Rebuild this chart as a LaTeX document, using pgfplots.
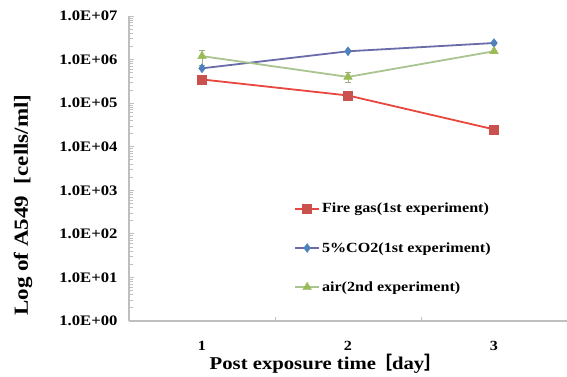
\documentclass[border=0pt]{standalone}
\usepackage{pgfplots}
\pgfplotsset{compat=1.18}
\usepackage{fontspec}
\setmainfont[FakeStretch=1.15]{Liberation Serif}
\newfontfamily\cjk{Noto Sans CJK SC}
\definecolor{redline}{HTML}{E8463E}
\definecolor{redmark}{HTML}{C9524E}
\definecolor{blueline}{HTML}{6A6CAA}
\definecolor{bluemark}{HTML}{4F81BD}
\definecolor{greenline}{HTML}{A9C48F}
\definecolor{greenmark}{HTML}{9BBB59}
\definecolor{axgray}{HTML}{BFBFBF}
\begin{document}
\begin{tikzpicture}
\useasboundingbox (-129pt,-55pt) rectangle (438pt,321pt);
\begin{axis}[
  scale only axis,
  width=438pt, height=305pt,
  at={(0,0)}, anchor=south west,
  xmin=0.5, xmax=3.5,
  ymode=log, ymin=1, ymax=1e7,
  axis x line*=bottom, axis y line*=left,
  axis line style={axgray, line width=1.2pt},
  xtick={1,2,3}, xticklabels={1,2,3},
  major x tick style={draw=none},
  minor xtick={1.5,2.5},
  minor x tick style={axgray, line width=0.8pt},
  minor tick length=4pt,
  x tick label style={font=\fontsize{14}{16}\selectfont\bfseries, yshift=-17pt},
  ytick={1,10,100,1000,10000,100000,1000000,10000000},
  yticklabels={1.0E+00,1.0E+01,1.0E+02,1.0E+03,1.0E+04,1.0E+05,1.0E+06,1.0E+07},
  y tick label style={font=\fontsize{14.5}{16}\selectfont\bfseries, xshift=-8pt},
  ytick style={axgray, line width=0.8pt},
  major tick length=5pt,
  tick align=inside,
  xlabel={Post exposure time\kern-2pt{\cjk\bfseries［}day{\cjk\bfseries］}},
  xlabel style={font=\fontsize{18}{20}\selectfont\bfseries, yshift=4pt, xshift=-22pt},
  ylabel={Log of A549\ \ [cells/ml]},
  ylabel style={font=\fontsize{20}{22}\selectfont\bfseries, at={(axis description cs:-0.242,0.38)}, anchor=center},
  legend style={at={(0.37,0.40)}, anchor=north west, draw=none, fill=none,
    font=\fontsize{14}{16}\selectfont\bfseries, row sep=24pt},
  legend cell align=left,
  legend image code/.code={
    \draw[#1, mark repeat=2, mark phase=2] plot coordinates {(0pt,0pt) (12pt,0pt) (24pt,0pt)};
  },
  clip=false,
]
\addplot[redline, line width=1.8pt, mark=square*, mark size=4.5pt,
  mark options={solid, fill=redmark, draw=redmark, line width=0.4pt}]
  coordinates {(1,3.5e5) (2,1.5e5) (3,2.5e4)};
\addlegendentry{Fire gas(1st experiment)}
\addplot[blueline, line width=1.8pt, mark=diamond*, mark size=4.5pt,
  mark options={solid, fill=bluemark, draw=bluemark, line width=0.4pt}]
  coordinates {(1,6.3e5) (2,1.55e6) (3,2.4e6)};
\addlegendentry{5\%CO2(1st experiment)}
\addplot[greenline, line width=1.8pt, mark=triangle*, mark size=5pt,
  mark options={solid, fill=greenmark, draw=greenmark, line width=0.4pt},
  error bars/.cd, y dir=both, y explicit,
  error bar style={greenline!70!gray, line width=0.8pt}, error mark options={rotate=90, mark size=3pt, greenline!70!gray}]
  coordinates {(1,1.2e6) +- (0,4.5e5) (2,4.0e5) +- (0,1.0e5) (3,1.55e6) +- (0,1.0e5)};
\addlegendentry{air(2nd experiment)}
\end{axis}
\end{tikzpicture}
\end{document}
